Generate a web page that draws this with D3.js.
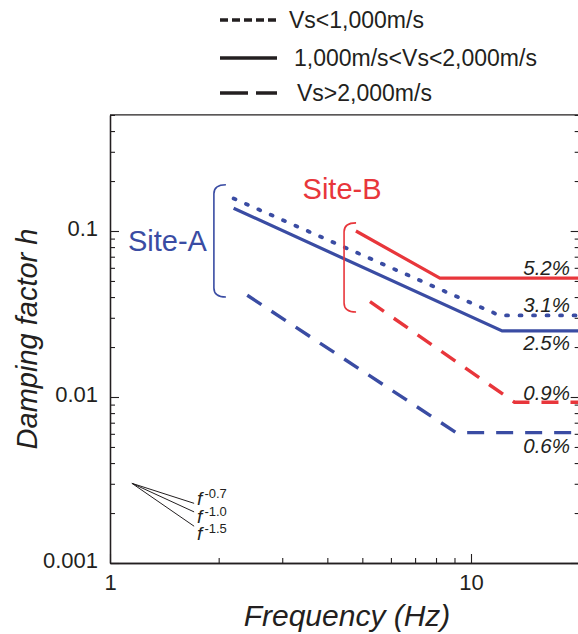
<!DOCTYPE html>
<html>
<head>
<meta charset="utf-8">
<script src="https://cdn.jsdelivr.net/npm/d3@7"></script>
<style>
  html, body { margin: 0; padding: 0; background: #fff; }
  svg { display: block; }
  text { font-family: "Liberation Sans", Arial, Helvetica, sans-serif; fill: #231f20; }
</style>
</head>
<body>
<svg id="chart" width="578" height="634"></svg>
<script>
// ---------------- data ----------------
const legendLabels = ["Vs<1,000m/s", "1,000m/s<Vs<2,000m/s", "Vs>2,000m/s"];
const xTickLabels = [1, 10];
const yTickLabels = [0.001, 0.01, 0.1];

// [frequency (Hz), damping factor h]
const siteA_low  = [[2.2, 0.157], [12.0, 0.031], [20, 0.031]];   // Vs<1000 (dotted)
const siteA_mid  = [[2.2, 0.137], [12.2, 0.025], [20, 0.025]];   // 1000<Vs<2000 (solid)
const siteA_high = [[2.4, 0.041], [9.1, 0.0061], [20, 0.0061]];  // Vs>2000 (dashed)
const siteB_mid  = [[4.8, 0.100], [8.2, 0.052], [20, 0.052]];    // solid
const siteB_high = [[5.25, 0.0375], [13.2, 0.0093], [20, 0.0093]]; // dashed

const pctValues = [0.052, 0.031, 0.025, 0.009, 0.0061];
const pctTexts  = ["5.2%", "3.1%", "2.5%", "0.9%", "0.6%"];

// brackets: [frequency, h top, h bottom]
const bracketA = [1.94, 0.19, 0.040];
const bracketB = [4.45, 0.112, 0.0325];
const siteNames = ["Site-A", "Site-B"];

// slope guide: origin and end frequency, exponents
const slopeOrigin = [1.15, 0.00302];
const slopeEndF = 1.71;
const slopeExps = [-0.7, -1.0, -1.5];
const slopeExpTexts = ["-0.7", "-1.0", "-1.5"];

// ---------------- layout ----------------
const BLUE = "#3a4ca3", RED = "#e8363b", INK = "#231f20";
const svg = d3.select("#chart");
const L = 110, B = 563, decX = 361, decY = 166;
const x = d3.scaleLog().domain([1, 20]).range([L, L + decX * Math.log10(20)]);
const y = d3.scaleLog().domain([0.001, 0.5]).range([B, B - decY * Math.log10(500)]);
const R = x.range()[1], T = y.range()[1];

// minor ticks
const xMinor = d3.range(2, 10).concat([20]);
const yMinor = [];
[0.001, 0.01, 0.1].forEach(d => { for (let k = 2; k <= 9; k++) { const v = d * k; if (v <= 0.5) yMinor.push(v); } });

function axisStyle(g) {
  g.selectAll("path.domain").attr("stroke", INK).attr("stroke-width", 1.3);
  g.selectAll(".tick line").attr("stroke", INK).attr("stroke-width", 1.1);
}

// left axis
svg.append("g").attr("transform", `translate(${L},0)`)
  .call(d3.axisLeft(y).tickValues(yMinor).tickSize(-5).tickSizeOuter(0).tickFormat(""))
  .call(axisStyle);
const gl = svg.append("g").attr("transform", `translate(${L},0)`)
  .call(d3.axisLeft(y).tickValues(yTickLabels).tickSize(-9).tickSizeOuter(0).tickPadding(12)
    .tickFormat(d => d3.format("")(d)))
  .call(axisStyle);
gl.selectAll("text").attr("font-size", 22).attr("dy", "0.2em").attr("fill", INK)
  .style("font-family", '"Liberation Sans", Arial, sans-serif');

// bottom axis
svg.append("g").attr("transform", `translate(0,${B})`)
  .call(d3.axisBottom(x).tickValues(xMinor).tickSize(-5).tickSizeOuter(0).tickFormat(""))
  .call(axisStyle);
const gb = svg.append("g").attr("transform", `translate(0,${B})`)
  .call(d3.axisBottom(x).tickValues(xTickLabels).tickSize(-9).tickSizeOuter(0).tickPadding(11)
    .tickFormat(d => String(d)))
  .call(axisStyle);
gb.selectAll("text").attr("font-size", 22).attr("fill", INK)
  .style("font-family", '"Liberation Sans", Arial, sans-serif');

// right axis
svg.append("g").attr("transform", `translate(${R},0)`)
  .call(d3.axisRight(y).tickValues(yMinor).tickSize(-5).tickSizeOuter(0).tickFormat(""))
  .call(axisStyle);
svg.append("g").attr("transform", `translate(${R},0)`)
  .call(d3.axisRight(y).tickValues(yTickLabels).tickSize(-9).tickSizeOuter(0).tickFormat(""))
  .call(axisStyle);
// top axis line
svg.append("line").attr("x1", L).attr("x2", R).attr("y1", T).attr("y2", T)
  .attr("stroke", INK).attr("stroke-width", 1.3);

// axis titles
svg.append("text").attr("x", 347).attr("y", 626).attr("text-anchor", "middle")
  .attr("font-size", 30).attr("font-style", "italic").text("Frequency (Hz)");
svg.append("text").attr("transform", `translate(37,${(T + B) / 2}) rotate(-90)`)
  .attr("text-anchor", "middle").attr("font-size", 29).attr("font-style", "italic")
  .text("Damping factor h");

// ---------------- series ----------------
const line = d3.line().x(d => x(d[0])).y(d => y(d[1]));
const DOT = "2,11.5", DASH = "17,12", SOLID = null;
const series = [
  { data: siteA_low,  color: BLUE, dash: DOT, cap: "round", w: 3.8 },
  { data: siteA_mid,  color: BLUE, dash: SOLID, cap: "butt", w: 3.2 },
  { data: siteA_high, color: BLUE, dash: DASH, cap: "butt", w: 3.4 },
  { data: siteB_mid,  color: RED,  dash: SOLID, cap: "butt", w: 3.2 },
  { data: siteB_high, color: RED,  dash: DASH, cap: "butt", w: 3.4 }
];
svg.append("clipPath").attr("id", "clip").append("rect")
  .attr("x", L).attr("y", T).attr("width", R - L).attr("height", B - T);
const gs = svg.append("g").attr("clip-path", "url(#clip)");
series.forEach(s => {
  gs.append("path").attr("d", line(s.data)).attr("fill", "none")
    .attr("stroke", s.color).attr("stroke-width", s.w)
    .attr("stroke-linecap", s.cap).attr("stroke-linejoin", "miter")
    .attr("stroke-dasharray", s.dash);
});

// percentage labels
const pctOffsets = [-3, -3, 19, -5, 20];
pctValues.forEach((v, i) => {
  svg.append("text").attr("x", 570).attr("y", y(v) + pctOffsets[i])
    .attr("text-anchor", "end").attr("font-size", 20.5).attr("font-style", "italic")
    .text(pctTexts[i]);
});

// brackets
function bracket(b, color) {
  const bx = x(b[0]), yt = y(b[1]), yb = y(b[2]), r = 9, hook = 12;
  const p = d3.path();
  p.moveTo(bx + hook, yt);
  p.quadraticCurveTo(bx, yt, bx, yt + r);
  p.lineTo(bx, yb - r);
  p.quadraticCurveTo(bx, yb, bx + hook, yb);
  svg.append("path").attr("d", p.toString()).attr("fill", "none")
    .attr("stroke", color).attr("stroke-width", 1.6);
}
bracket(bracketA, BLUE);
bracket(bracketB, RED);
svg.append("text").attr("x", x(bracketA[0]) - 7).attr("y", y(Math.sqrt(bracketA[1] * bracketA[2])) + 10)
  .attr("text-anchor", "end").attr("font-size", 29).style("fill", BLUE).text(siteNames[0]);
svg.append("text").attr("x", x(bracketB[0]) - 2).attr("y", y(bracketB[1]) - 24)
  .attr("text-anchor", "middle").attr("font-size", 29).style("fill", RED).text(siteNames[1]);

// slope guide
slopeExps.forEach((e, i) => {
  const hEnd = slopeOrigin[1] * Math.pow(slopeEndF / slopeOrigin[0], e);
  svg.append("line").attr("x1", x(slopeOrigin[0])).attr("y1", y(slopeOrigin[1]))
    .attr("x2", x(slopeEndF)).attr("y2", y(hEnd)).attr("stroke", INK).attr("stroke-width", 1);
});
const fBase = [505, 522.5, 540];
slopeExpTexts.forEach((t, i) => {
  const tx = svg.append("text").attr("x", x(slopeEndF) + 3).attr("y", fBase[i]);
  tx.append("tspan").attr("font-size", 19).attr("font-style", "italic").text("f");
  tx.append("tspan").attr("font-size", 13).attr("dx", 2).attr("dy", -7).text(t);
});

// legend
const legX1 = 220, legX2 = 277, legTextX = [289, 294, 297], legY = [20, 58, 93];
const legDash = ["8,4", null, "28,8"];
legendLabels.forEach((lab, i) => {
  svg.append("line").attr("x1", legX1).attr("x2", legX2).attr("y1", legY[i]).attr("y2", legY[i])
    .attr("stroke", INK).attr("stroke-width", 3.6).attr("stroke-dasharray", legDash[i]);
  svg.append("text").attr("x", legTextX[i]).attr("y", legY[i] + 8)
    .attr("font-size", 23).text(lab);
});
</script>
</body>
</html>
